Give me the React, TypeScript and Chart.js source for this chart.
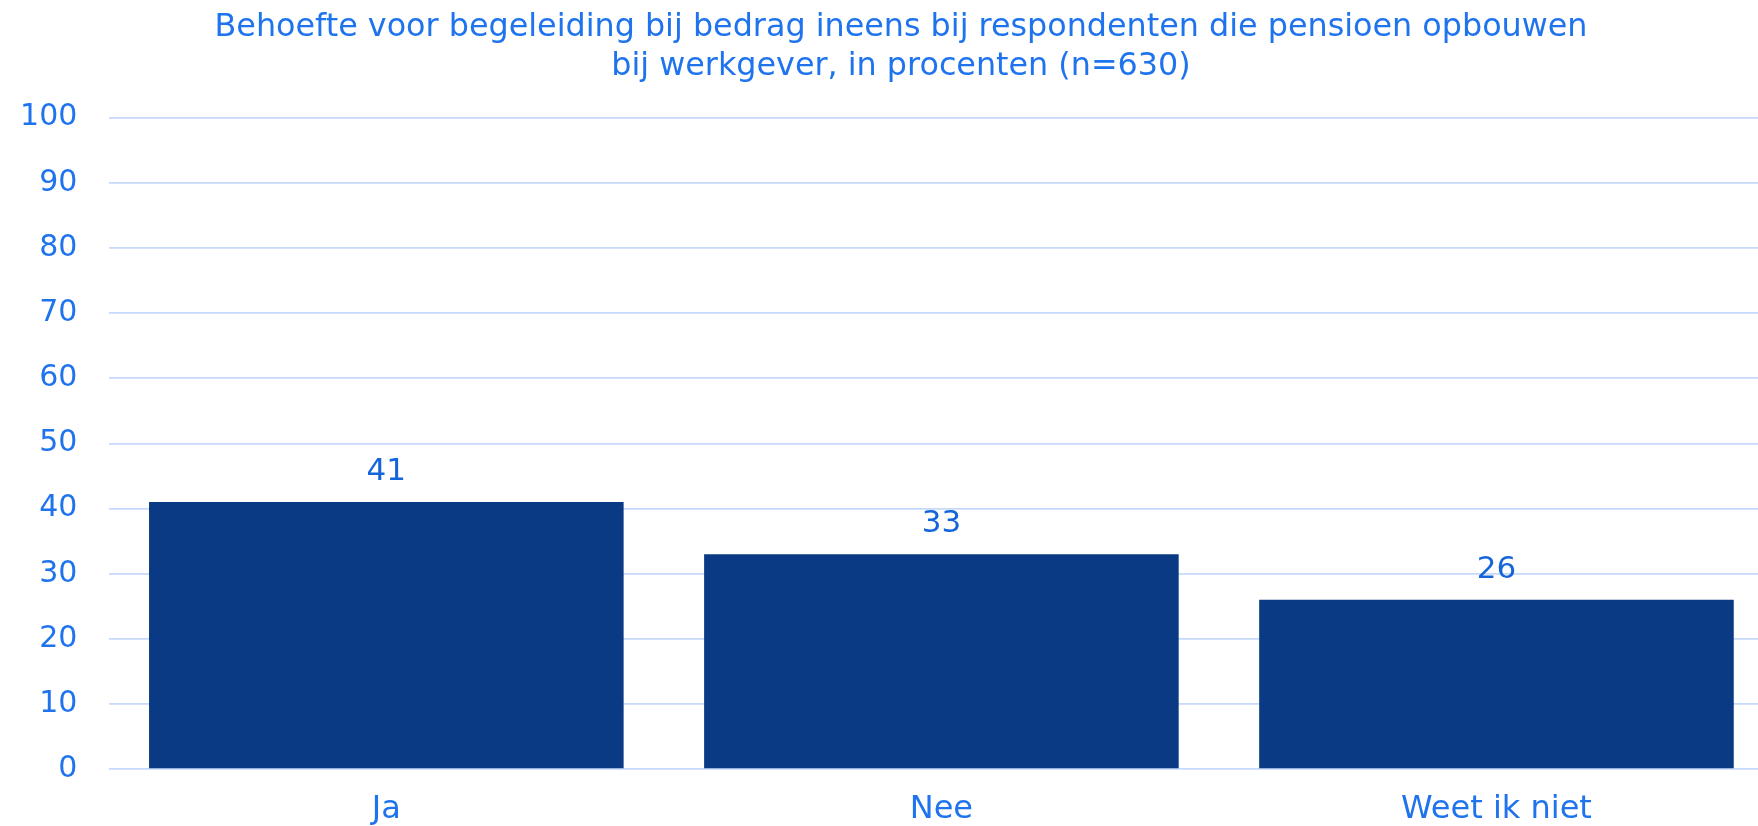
import React, { useEffect, useRef } from "react";
import { Chart, registerables } from "chart.js";

Chart.register(...registerables);

const titleLines: string[] = [
  "Behoefte voor begeleiding bij bedrag ineens bij respondenten die pensioen opbouwen",
  "bij werkgever, in procenten (n=630)",
];
const categories: string[] = ["Ja", "Nee", "Weet ik niet"];
const values: number[] = [41, 33, 26];
const yTicks: number[] = [0, 10, 20, 30, 40, 50, 60, 70, 80, 90, 100];

const FONT = "'DejaVu Sans', sans-serif";
const TEXT_BLUE = "#1f74ee";
const LABEL_BLUE = "#1565da";
const BAR_COLOR = "#0a3a84";
const GRID_COLOR = "#c6dafa";

const titlePlugin = {
  id: "customTitle",
  afterDraw(chart: any) {
    const ctx = chart.ctx;
    ctx.save();
    ctx.fillStyle = TEXT_BLUE;
    ctx.font = `31.8px ${FONT}`;
    ctx.textAlign = "center";
    ctx.textBaseline = "alphabetic";
    const cx = 901;
    titleLines.forEach((line, i) => {
      ctx.fillText(line, cx, 35.7 + i * 39.3);
    });
    ctx.restore();
  },
};

const valueLabelPlugin = {
  id: "valueLabels",
  afterDatasetsDraw(chart: any) {
    const ctx = chart.ctx;
    const meta = chart.getDatasetMeta(0);
    ctx.save();
    ctx.fillStyle = LABEL_BLUE;
    ctx.font = `31px ${FONT}`;
    ctx.textAlign = "center";
    ctx.textBaseline = "middle";
    meta.data.forEach((bar: any, i: number) => {
      ctx.fillText(String(values[i]), bar.x, bar.y - 30);
    });
    ctx.restore();
  },
};

export default function App() {
  const ref = useRef<HTMLCanvasElement | null>(null);

  useEffect(() => {
    if (!ref.current) return;
    const chart = new Chart(ref.current, {
      type: "bar",
      data: {
        labels: categories,
        datasets: [
          {
            data: values,
            backgroundColor: BAR_COLOR,
            borderWidth: 0,
            barPercentage: 0.855,
            categoryPercentage: 1,
          },
        ],
      },
      options: {
        responsive: false,
        animation: false,
        devicePixelRatio: 1,
        layout: { padding: { top: 117.7, left: 0, right: 0, bottom: 0 } },
        plugins: {
          legend: { display: false },
          title: { display: false },
          tooltip: { enabled: false },
        },
        scales: {
          x: {
            grid: { display: false, drawTicks: false },
            border: { display: false },
            ticks: {
              color: TEXT_BLUE,
              font: { family: FONT, size: 32 },
              padding: 21,
              maxRotation: 0,
            },
            afterFit: (scale: any) => {
              scale.height = 56.8;
            },
          },
          y: {
            min: 0,
            max: 100,
            afterBuildTicks: (scale: any) => {
              scale.ticks = yTicks.map((v) => ({ value: v }));
            },
            grid: { color: GRID_COLOR, lineWidth: 1.8, drawTicks: false },
            border: { display: false },
            ticks: {
              color: TEXT_BLUE,
              font: { family: FONT, size: 30 },
              padding: 31.5,
            },
            afterFit: (scale: any) => {
              scale.width = 108.8;
            },
          },
        },
      },
      plugins: [titlePlugin, valueLabelPlugin],
    });
    return () => chart.destroy();
  }, []);

  return (
    <div
      style={{
        position: "absolute",
        left: 0,
        top: 0,
        width: 1758,
        height: 826,
        overflow: "hidden",
        background: "#ffffff",
      }}
    >
      <canvas ref={ref} width={1774} height={826} style={{ display: "block" }} />
    </div>
  );
}
